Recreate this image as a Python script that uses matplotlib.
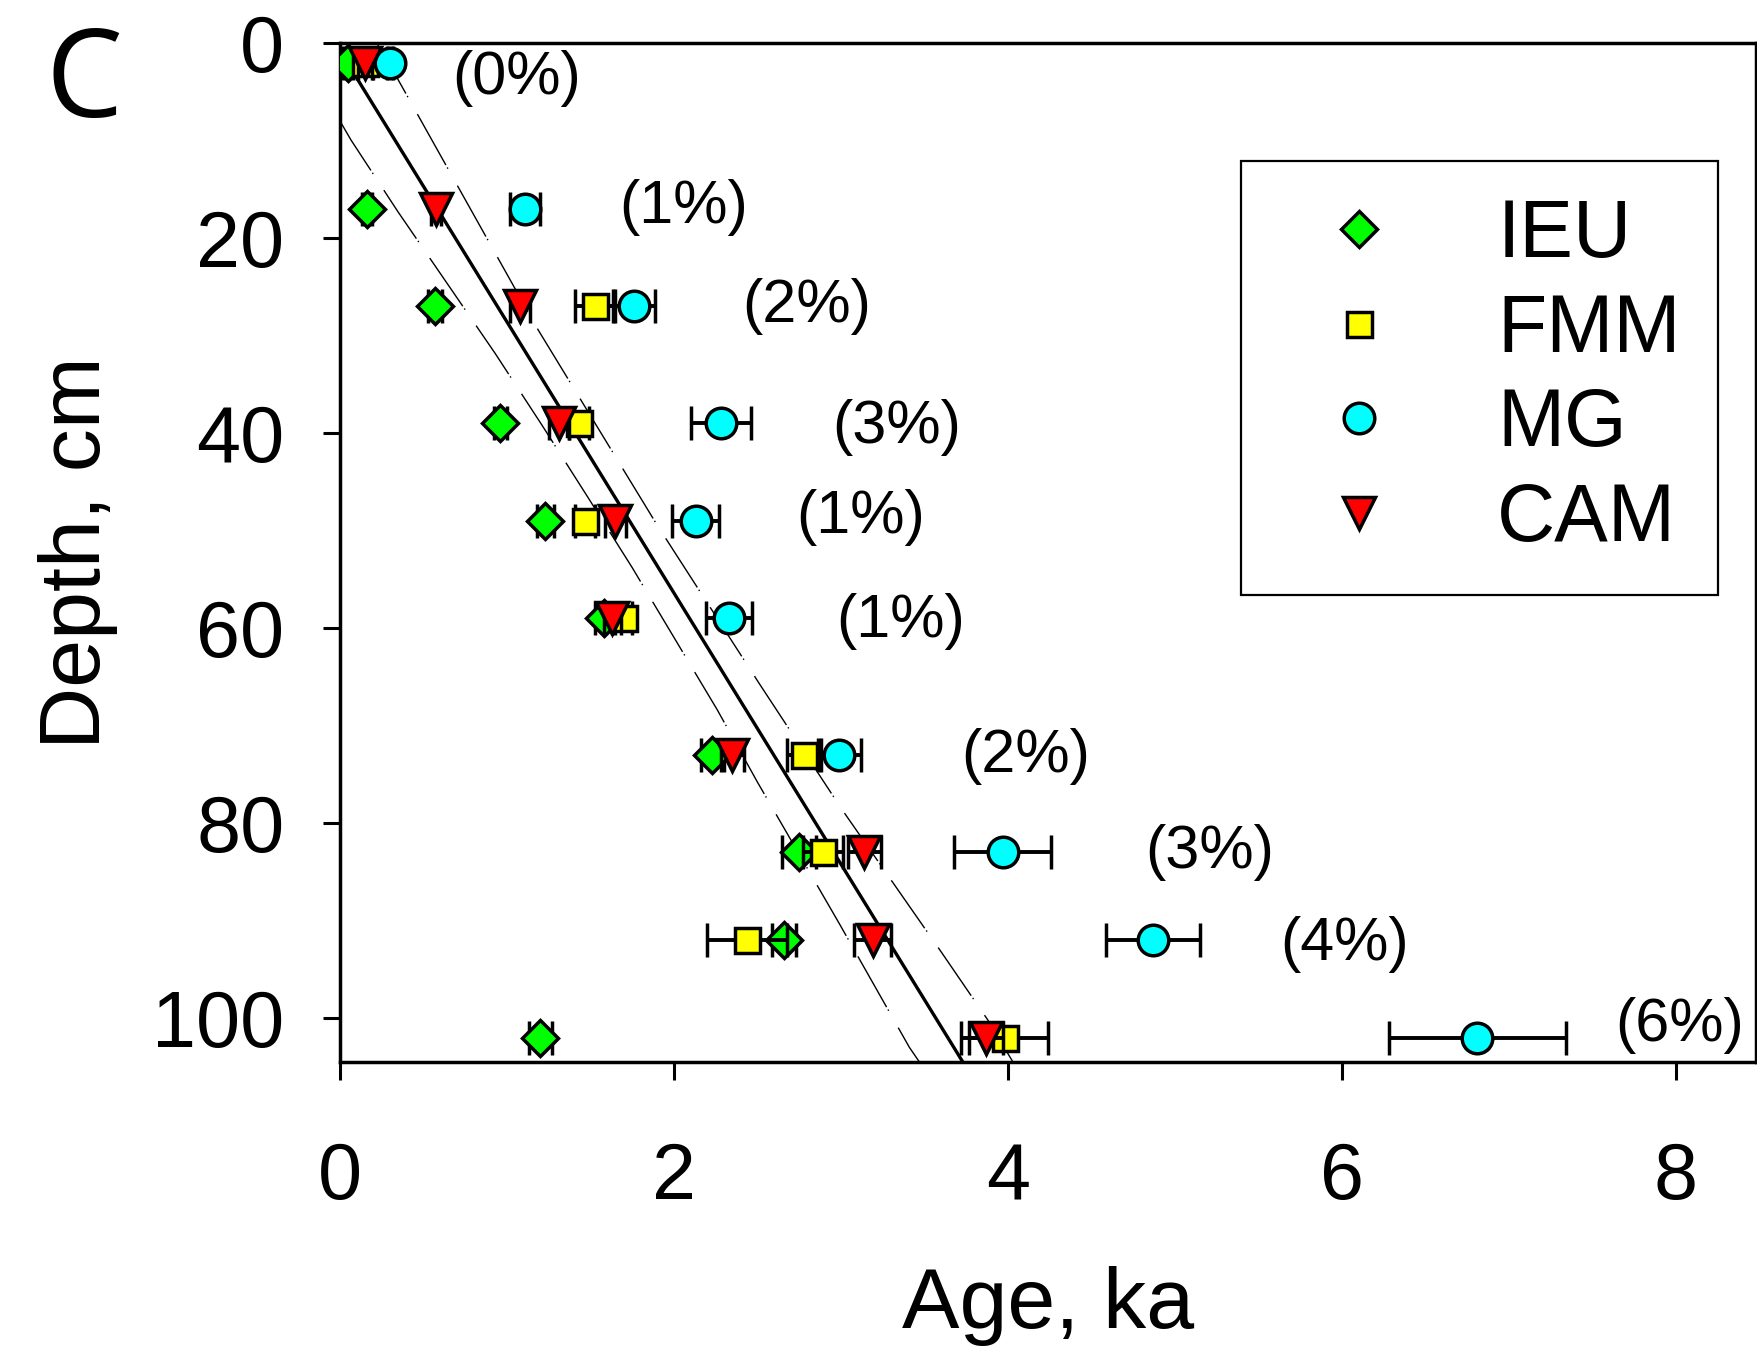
import numpy as np
import matplotlib
matplotlib.use("Agg")
import matplotlib.pyplot as plt

# глубины отбора образцов, см
depth = [2, 17, 27, 39, 49, 59, 73, 83, 92, 102]

# возраст (тыс. лет) и ошибки для каждой модели
ieu_age = [0.05, 0.16, 0.57, 0.96, 1.23, 1.58, 2.23, 2.75, 2.66, 1.20]
ieu_err = [0.03, 0.03, 0.04, 0.04, 0.05, 0.05, 0.07, 0.10, 0.07, 0.07]
fmm_age = [0.15, np.nan, 1.53, 1.43, 1.47, 1.70, 2.78, 2.89, 2.44, 3.98]
fmm_err = [0.05, np.nan, 0.12, 0.06, 0.06, 0.05, 0.10, 0.12, 0.24, 0.26]
mg_age = [0.30, 1.11, 1.76, 2.28, 2.13, 2.33, 2.99, 3.97, 4.87, 6.81]
mg_err = [0.02, 0.09, 0.125, 0.18, 0.14, 0.14, 0.13, 0.29, 0.28, 0.53]
cam_age = [0.15, 0.575, 1.08, 1.31, 1.65, 1.63, 2.35, 3.14, 3.19, 3.87]
cam_err = [0.04, 0.03, 0.06, 0.06, 0.06, 0.05, 0.07, 0.10, 0.11, 0.10]

# подписи (%) справа от точек
pct_text = ["(0%)", "(1%)", "(2%)", "(3%)", "(1%)", "(1%)", "(2%)", "(3%)", "(4%)", "(6%)"]
pct_x = [0.67, 1.67, 2.41, 2.95, 2.73, 2.97, 3.72, 4.82, 5.63, 7.64]
pct_y = [3.6, 16.9, 27.0, 39.4, 48.7, 59.3, 73.2, 83.0, 92.5, 100.8]

# линия возрастной модели и доверительный интервал
fit_age = [0.0, 3.73]
fit_depth = [0.8, 104.5]
upper_age = [0.22, 0.32, 1.186, 1.898, 2.515, 3.01, 3.60, 3.88, 4.03]
upper_depth = [0.0, 2.9, 29.4, 49.4, 65.8, 78.7, 93.2, 100.2, 104.5]
lower_age = [0.0, 0.066, 0.347, 0.928, 1.21, 1.485, 1.75, 2.26, 2.50, 2.99, 3.41, 3.47]
lower_depth = [8.0, 9.95, 17.3, 31.8, 39.2, 46.6, 53.8, 68.4, 75.8, 90.3, 103.0, 104.5]

plt.rcParams['font.family'] = ['Liberation Sans', 'DejaVu Sans']

fig = plt.figure(figsize=(17.57, 13.48), dpi=100)
ax = fig.add_axes([0.1935, 0.2122, 0.8059, 0.7559])

dash = (0, (42, 2, 1, 14))
ax.plot(fit_age, fit_depth, color='black', lw=2.4, zorder=1)
ax.plot(upper_age, upper_depth, color='black', lw=1, linestyle=dash, zorder=1)
ax.plot(lower_age, lower_depth, color='black', lw=1, linestyle=dash, zorder=1)

series = [
    ("IEU", ieu_age, ieu_err, 'D', '#00ff00', 18),
    ("FMM", fmm_age, fmm_err, 's', '#ffff00', 18),
    ("MG", mg_age, mg_err, 'o', '#00ffff', 22),
    ("CAM", cam_age, cam_err, 'v', '#ff0000', 23),
]

handles = []
for i, (name, age, err, marker, color, ms) in enumerate(series):
    eb = ax.errorbar(age, depth, xerr=err, fmt=marker, color='black', mfc=color, mec='black',
                     ms=ms, mew=2.5, elinewidth=2.8, capsize=12, capthick=2.8,
                     ecolor='black', zorder=3 + i, label=name)
    handles.append(eb[0])

for t, x, y in zip(pct_text, pct_x, pct_y):
    ax.text(x, y, t, fontsize=44, ha='left', va='center')

ax.set_xlim(0, 8.48)
ax.set_ylim(104.5, 0)
ax.set_xticks([0, 2, 4, 6, 8])
ax.set_yticks([0, 20, 40, 60, 80, 100])
ax.tick_params(axis='x', direction='out', length=13, width=2.2, labelsize=57, pad=44)
ax.tick_params(axis='y', direction='out', length=12, width=2.2, labelsize=57, pad=28)
for s in ax.spines.values():
    s.set_linewidth(2.5)

ax.set_xlabel("Age, ka", fontsize=62)
ax.set_ylabel("Depth, cm", fontsize=62)
ax.xaxis.set_label_coords(0.5, -0.2)
ax.yaxis.set_label_coords(-0.157, 0.5)

leg = ax.legend(handles=handles, labels=[s[0] for s in series], loc='upper right',
                bbox_to_anchor=(0.973, 0.884), borderaxespad=0, fontsize=58,
                frameon=True, fancybox=False, edgecolor='black', framealpha=1,
                borderpad=0.46, handlelength=2.0, handletextpad=0.72,
                labelspacing=0.23, numpoints=1)
leg.get_frame().set_linewidth(1.6)

fig.text(0.026, 0.913, "C", fontsize=88, family='Open Sans', ha='left', va='baseline')

fig.savefig("out.png", dpi=100)
